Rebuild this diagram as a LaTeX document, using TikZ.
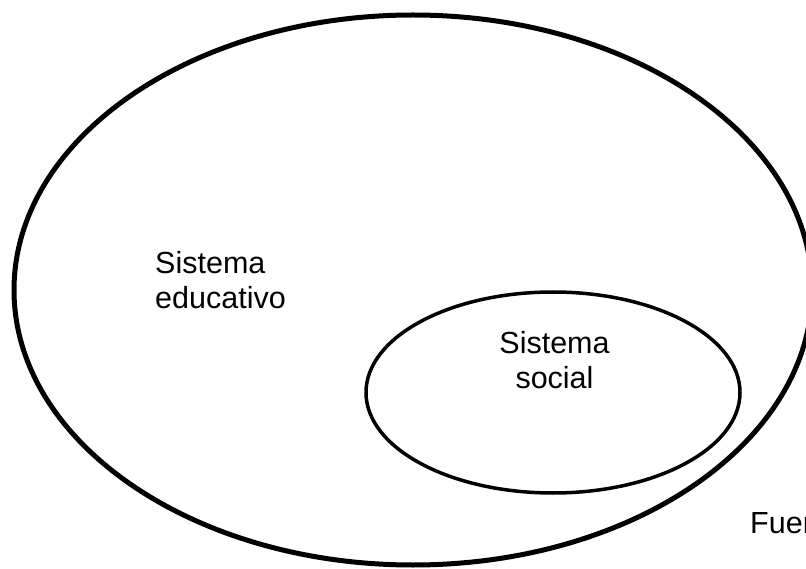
\documentclass[tikz,border=0pt]{standalone}
\usepackage{fontspec}
\setmainfont{Liberation Sans}
\usetikzlibrary{shapes.geometric}
\begin{document}
\begin{tikzpicture}[x=1pt,y=-1pt,
  lbl/.style={inner sep=0pt,font=\fontsize{30.5}{35}\selectfont},
  outerell/.style={draw=black,line width=5pt},
  innerell/.style={draw=black,line width=3.5pt}]
\useasboundingbox (0,0) rectangle (806,569);
\clip (0,0) rectangle (806,569);
\fill[white] (0,0) rectangle (806,569);
\draw[outerell] (413,290) ellipse [x radius=399pt, y radius=275pt];
\draw[innerell] (553,392.5) ellipse [x radius=187pt, y radius=100.5pt];
\node[lbl,anchor=north west,align=left] (edu) at (155,251) {Sistema\\educativo};
\node[lbl,anchor=north,align=center] (soc) at (554.5,331) {Sistema\\social};
\node[lbl,anchor=base west] (fuente) at (750,533) {Fuente};
\end{tikzpicture}
\end{document}
